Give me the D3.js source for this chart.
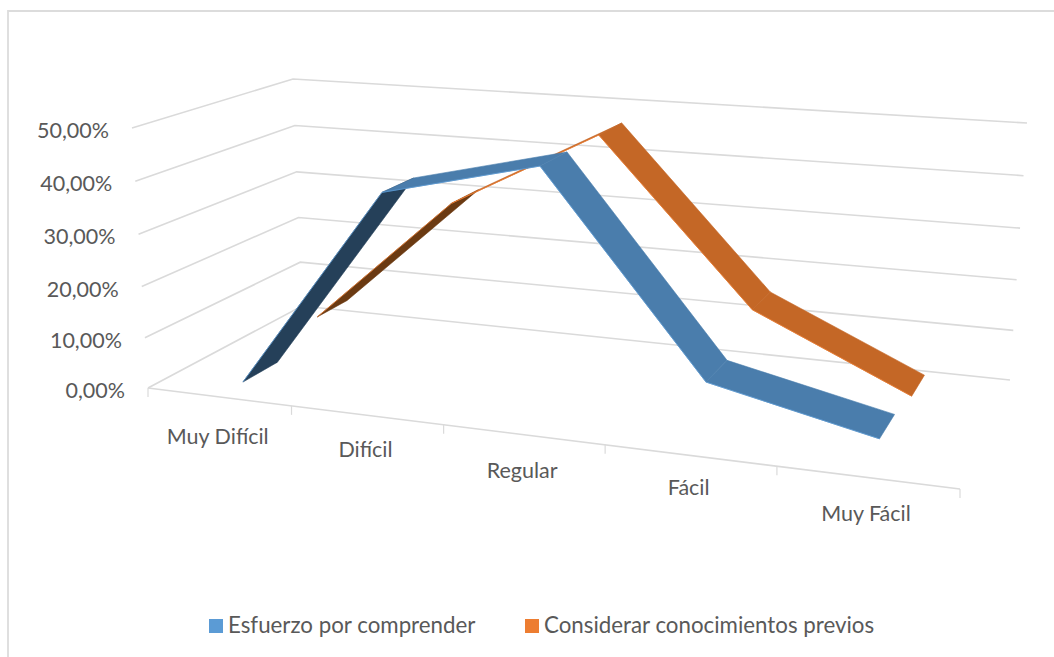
<!DOCTYPE html>
<html lang="es">
<head>
<meta charset="UTF-8">
<title>Esfuerzo por comprender</title>
<script src="https://d3js.org/d3.v7.min.js"></script>
<style>
    html, body { margin: 0; padding: 0; background: #fff; }
    svg { display: block; }
    text { font-family: Lato, sans-serif; fill: #595959; }
</style>
</head>
<body>
<svg id="chart" width="1054" height="657"></svg>
<script>
// values
const categories = ["Muy Difícil", "Difícil", "Regular", "Fácil", "Muy Fácil"];
const esfuerzo = [0.3, 39.6, 46.6, 10.6, 3.9];
const conocimientos = [5, 31.2, 46.7, 15.5, 1.9];
const valueTicks = [0, 10, 20, 30, 40, 50];
const tickLabels = ["0,00%", "10,00%", "20,00%", "30,00%", "40,00%", "50,00%"];
const seriesNames = ["Esfuerzo por comprender", "Considerar conocimientos previos"];

const svg = d3.select("#chart");

// corners of the 3D box on screen: front-left, front-right, back-right, back-left
const floorQuad = [[148, 388], [960, 489], [1010, 380], [302, 306]];
const topQuad = [[132, 128], [977, 189], [1027, 123], [293, 79]];

// unit square -> quad (projective), this is what gives the perspective
function quadMap(q) {
    const [[x0, y0], [x1, y1], [x2, y2], [x3, y3]] = q;
    const sx = x0 - x1 + x2 - x3, sy = y0 - y1 + y2 - y3;
    const dx1 = x1 - x2, dx2 = x3 - x2, dy1 = y1 - y2, dy2 = y3 - y2;
    const det = dx1 * dy2 - dx2 * dy1;
    const g = (sx * dy2 - dx2 * sy) / det, h = (dx1 * sy - sx * dy1) / det;
    const a = x1 - x0 + g * x1, b = x3 - x0 + h * x3;
    const d = y1 - y0 + g * y1, e = y3 - y0 + h * y3;
    return (u, v) => {
        const w = g * u + h * v + 1;
        return [(a * u + b * v + x0) / w, (d * u + e * v + y0) / w];
    };
}
const floorAt = quadMap(floorQuad), topAt = quadMap(topQuad);

const xBand = d3.scaleBand().domain(categories).range([0, 1]);
const xPos = d3.scaleLinear().domain([0, categories.length]).range([0, 1]);
const zScale = d3.scaleLinear().domain(valueTicks).range([0, 0.193, 0.39, 0.591, 0.795, 1]);

function project(u, depth, value) {
    const p = floorAt(u, depth), t = topAt(u, depth), z = zScale(value);
    return [p[0] + (t[0] - p[0]) * z, p[1] + (t[1] - p[1]) * z];
}

const path = d3.line();

// frame, the picture is cut off on the right and at the bottom
svg.append("path")
    .attr("d", "M8,657V11H1054")
    .attr("fill", "none").attr("stroke", "#dcdcdc").attr("stroke-width", 1.8);

// gridlines, side wall + back wall
const grid = svg.append("g").attr("fill", "none").attr("stroke", "#dadada").attr("stroke-width", 1.6);
grid.selectAll("path")
    .data(valueTicks)
    .join("path")
    .attr("d", v => path([project(0, 0, v), project(0, 1, v), project(1, 1, v)]));

// front axis with ticks
const tickPos = d3.range(categories.length + 1);
grid.append("path").attr("d", path([project(0, 0, 0), project(1, 0, 0)]));
grid.selectAll(".tick")
    .data(tickPos)
    .join("path")
    .attr("class", "tick")
    .attr("stroke-width", 1.2)
    .attr("d", i => {
        const p = project(xPos(i), 0, 0);
        return path([p, [p[0], p[1] + 9]]);
    });

// y labels
svg.selectAll(".ylab")
    .data(valueTicks)
    .join("text")
    .attr("class", "ylab")
    .attr("text-anchor", "end")
    .attr("font-size", 21.5)
    .attr("x", v => project(0, 0, v)[0] - 23)
    .attr("y", v => project(0, 0, v)[1] + 10)
    .text((v, i) => tickLabels[i]);

// x labels
const catDy = [39, 34, 35, 32, 36];
svg.selectAll(".xlab")
    .data(categories)
    .join("text")
    .attr("class", "xlab")
    .attr("text-anchor", "middle")
    .attr("font-size", 21.5)
    .attr("x", c => project(xBand(c) + xBand.bandwidth() / 2, 0, 0)[0] - 1)
    .attr("y", (c, i) => project(xBand(c) + xBand.bandwidth() / 2, 0, 0)[1] + catDy[i] + 8)
    .text(c => c);

// ribbons, back series first
const ribbons = [
    { values: conocimientos, d0: 0.64, d1: 0.86, base: "#ed7d31", face: "#c46726", dark: "#6b3a12" },
    { values: esfuerzo, d0: 0.14, d1: 0.36, base: "#5b9bd5", face: "#4a7dac", dark: "#254059" }
];
const pointShift = 0.0015;

ribbons.forEach(r => {
    const segs = d3.pairs(r.values.map((v, i) => ({ v, u: xBand(categories[i]) + xBand.bandwidth() / 2 + pointShift })));
    const g = svg.append("g");
    g.selectAll("path.face")
        .data(segs)
        .join("path")
        .attr("class", "face")
        .attr("d", ([a, b]) => path([
            project(a.u, r.d0, a.v), project(a.u, r.d1, a.v),
            project(b.u, r.d1, b.v), project(b.u, r.d0, b.v)
        ]) + "Z")
        // steep rising parts show their shaded underside
        .attr("fill", ([a, b]) => b.v - a.v > 20 ? r.dark : r.face)
        .attr("stroke", ([a, b]) => b.v - a.v > 20 ? r.dark : r.face)
        .attr("stroke-width", 0.6);
    g.selectAll("path.edge")
        .data(segs)
        .join("path")
        .attr("class", "edge")
        .attr("d", ([a, b]) => path([project(a.u, r.d0, a.v), project(b.u, r.d0, b.v)]))
        .attr("fill", "none")
        .attr("stroke", r.base)
        .attr("stroke-opacity", 0.75)
        .attr("stroke-width", 1);
});

// legend
const legendX = [209, 525];
const legend = svg.selectAll(".legend")
    .data(seriesNames)
    .join("g")
    .attr("class", "legend")
    .attr("transform", (d, i) => "translate(" + legendX[i] + ",619)");
legend.append("rect")
    .attr("width", 14).attr("height", 14)
    .attr("fill", (d, i) => ["#5b9bd5", "#ed7d31"][i]);
legend.append("text")
    .attr("x", 19).attr("y", 14)
    .attr("font-size", 22.3)
    .text(d => d);
</script>
</body>
</html>
